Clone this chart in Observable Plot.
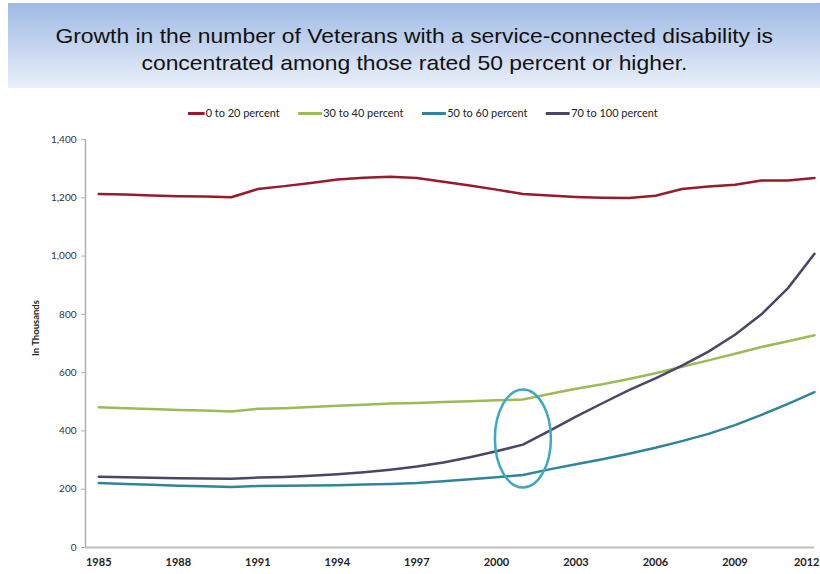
<!DOCTYPE html>
<html><head><meta charset="utf-8">
<script src="https://cdn.jsdelivr.net/npm/d3@7"></script>
<script src="https://cdn.jsdelivr.net/npm/@observablehq/plot@0.6"></script>
<style>
body{margin:0;width:820px;height:574px;overflow:hidden;background:#fff;font-family:Lato,"Open Sans",sans-serif;position:relative;}
#title{position:absolute;left:8px;top:3px;width:812px;height:85px;background:linear-gradient(#9fb9e5,#eaf0f9);font-family:"Liberation Sans",Arial,sans-serif;font-size:21px;line-height:27px;text-align:center;color:#111;padding-top:19px;box-sizing:border-box;}
#title span{display:inline-block;transform:scaleX(1.09);}
#legend{position:absolute;top:107px;left:188px;display:flex;align-items:center;font-size:10.5px;color:#222;white-space:nowrap;transform-origin:left center;transform:scaleX(1.04);}
#legend .item{display:flex;align-items:center;margin-right:18px;}
#legend .sw{display:inline-block;height:3px;margin-right:1px;}
#ylabel{position:absolute;left:35px;top:328px;transform:translate(-50%,-50%) rotate(-90deg);font-size:9.5px;font-weight:bold;color:#222;white-space:nowrap;}
#chart{position:absolute;top:125px;left:0;}
</style></head>
<body>
<div id="title"><span>Growth in the number of Veterans with a service-connected disability is</span><br><span>concentrated among those rated 50 percent or higher.</span></div>
<div id="legend"></div>
<div id="chart"></div>
<div id="ylabel">In Thousands</div>
<script>
const years = [1985,1986,1987,1988,1989,1990,1991,1992,1993,1994,1995,1996,1997,1998,1999,2000,2001,2002,2003,2004,2005,2006,2007,2008,2009,2010,2011,2012];
const seriesNames = ["0 to 20 percent","30 to 40 percent","50 to 60 percent","70 to 100 percent"];
const seriesColors = ["#961b2d","#9bbb59","#31849b","#4b4566"];
const rated0to20 = [1213,1211,1208,1205,1204,1202,1230,1240,1251,1263,1269,1272,1268,1255,1242,1228,1213,1208,1203,1200,1199,1207,1230,1239,1245,1259,1259,1268];
const rated30to40 = [481,478,475,472,470,467,476,478,482,486,490,494,496,499,502,505,508,527,545,560,578,598,620,642,665,688,708,728];
const rated50to60 = [221,218,215,212,210,208,211,212,213,214,216,218,221,227,234,241,249,268,286,303,322,342,365,390,420,455,493,533];
const rated70to100 = [243,241,239,238,237,236,240,242,246,251,258,267,278,292,310,330,353,400,449,495,540,580,624,672,730,800,890,1008];
const xTicks = [1985,1988,1991,1994,1997,2000,2003,2006,2009];
const xLastTick = [2012];
const yTicks = [0,200,400,600,800,1000,1200,1400];
const highlight = [{year: 2001, value: 374}];

const seriesValues = [rated0to20, rated30to40, rated50to60, rated70to100];
const data = [];
seriesNames.forEach((name, i) => years.forEach((y, j) => data.push({series: name, year: y, value: seriesValues[i][j]})));

// legend
const legend = document.getElementById("legend");
const swLen = [16,23,23,23];
seriesNames.forEach((n, i) => {
  const it = document.createElement("span");
  it.className = "item";
  it.innerHTML = `<span class="sw" style="width:${swLen[i]}px;background:${seriesColors[i]}"></span>${n}`;
  legend.appendChild(it);
});

// ellipse symbol for the highlight annotation
const ellipseSymbol = {
  draw(ctx, size) {
    const r = Math.sqrt(size / Math.PI);
    const rx = r, ry = r * 1.75, k = 0.5523;
    ctx.moveTo(rx, 0);
    ctx.bezierCurveTo(rx, ry * k, rx * k, ry, 0, ry);
    ctx.bezierCurveTo(-rx * k, ry, -rx, ry * k, -rx, 0);
    ctx.bezierCurveTo(-rx, -ry * k, -rx * k, -ry, 0, -ry);
    ctx.bezierCurveTo(rx * k, -ry, rx, -ry * k, rx, 0);
    ctx.closePath();
  }
};

const xDomain = [1984.5, 2012];
const xAxisStyle = {tickFormat: d => String(d), tickSize: 0, tickPadding: 11, fontSize: 11, fontWeight: "bold", color: "#222", label: null};
const chart = Plot.plot({
  width: 820,
  height: 449,
  marginLeft: 85,
  marginRight: 6,
  marginTop: 14,
  marginBottom: 27,
  style: {fontFamily: "Lato, 'Open Sans', sans-serif", background: "transparent", overflow: "visible"},
  x: {domain: xDomain},
  y: {domain: [0, 1400]},
  color: {domain: seriesNames, range: seriesColors},
  marks: [
    Plot.ruleX([xDomain[0]], {y1: 0, y2: 1400, stroke: "#b0b0b0", strokeWidth: 1.5}),
    Plot.ruleY([0], {stroke: "#bdbdbd", strokeWidth: 2}),
    Plot.axisY({ticks: yTicks, tickFormat: d3.format(","), tickSize: 4, tickPadding: 5, fontSize: 10, color: "#333", stroke: "#b0b0b0", label: null}),
    Plot.axisX({ticks: xTicks, ...xAxisStyle}),
    Plot.axisX({ticks: xLastTick, ...xAxisStyle, textAnchor: "end", dx: 5}),
    Plot.line(data, {x: "year", y: "value", z: "series", stroke: "series", strokeWidth: 2.5, curve: "linear"}),
    Plot.dot(highlight, {x: "year", y: "value", r: 28, symbol: ellipseSymbol, stroke: "#3ba9c2", strokeWidth: 2.5, fill: "none"})
  ]
});
document.getElementById("chart").appendChild(chart);
</script>
</body></html>
